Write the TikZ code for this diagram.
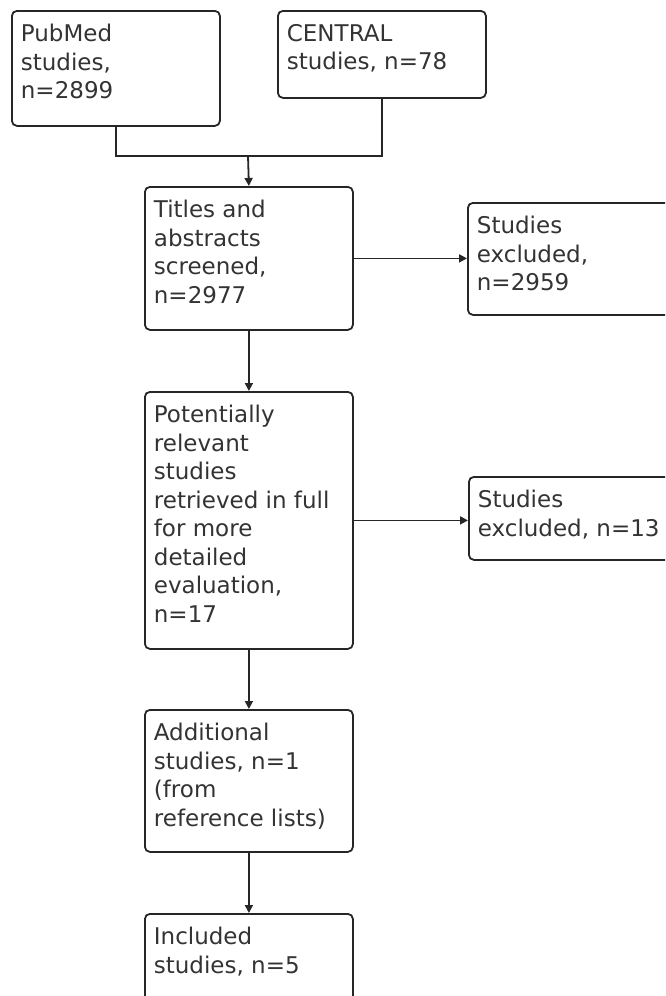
\documentclass[tikz,border=0pt]{standalone}
\usepackage{fontspec}
\setmainfont{DejaVu Sans}
\usetikzlibrary{arrows.meta,positioning}

\newcommand{\flowtext}[2]{\parbox[t][#1][t]{190pt}{\raggedright #2}}

\begin{document}
\begin{tikzpicture}[x=1pt,y=-1pt,
  box/.style={draw=black!85,line width=1.8pt,rounded corners=5pt,anchor=north west,
    inner xsep=9pt,inner ysep=13.5pt,font=\fontsize{23}{28.5}\selectfont,text=black!80},
  arr/.style={draw=black!85,line width=1.8pt,-{Triangle[length=8pt,width=8pt]}}]

\useasboundingbox (0,0) rectangle (665,996);
\clip (0,0) rectangle (665,996);

\coordinate (P) at (11,10);
\coordinate (C) at (277,10);
\coordinate (T) at (144,186);
\coordinate (E) at (467,202);
\coordinate (R) at (144,391);
\coordinate (F) at (468,476);
\coordinate (A) at (144,709);
\coordinate (I) at (144,913);
\coordinate (join) at (248,156);

\node[box] (pubmed) at (P) {\flowtext{88pt}{PubMed\\studies,\\n=2899}};
\node[box] (central) at (C) {\flowtext{60pt}{CENTRAL\\studies, n=78}};
\node[box] (titles) at (T) {\flowtext{116pt}{Titles and\\abstracts\\screened,\\n=2977}};
\node[box] (excl1) at (E) {\flowtext{85pt}{Studies\\excluded,\\n=2959}};
\node[box] (retrieved) at (R) {\flowtext{230pt}{Potentially\\relevant\\studies\\retrieved in full\\for more\\detailed\\evaluation,\\n=17}};
\node[box] (excl2) at (F) {\flowtext{56pt}{Studies\\excluded, n=13}};
\node[box] (additional) at (A) {\flowtext{115pt}{Additional\\studies, n=1\\(from\\reference lists)}};
\node[box] (included) at (I) {\flowtext{73pt}{Included\\studies, n=5}};

\draw[draw=black!85,line width=1.8pt] (pubmed.south) |- (join) -| (central.south);
\draw[arr] (join) -- (titles.north);

\foreach \from/\to in {titles/retrieved,retrieved/additional,additional/included}
  \draw[arr] (\from.south) -- (\to.north);

\draw[arr] (titles.east) -- (titles.east -| excl1.west);
\draw[arr] (retrieved.east) -- (retrieved.east -| excl2.west);
\end{tikzpicture}
\end{document}
